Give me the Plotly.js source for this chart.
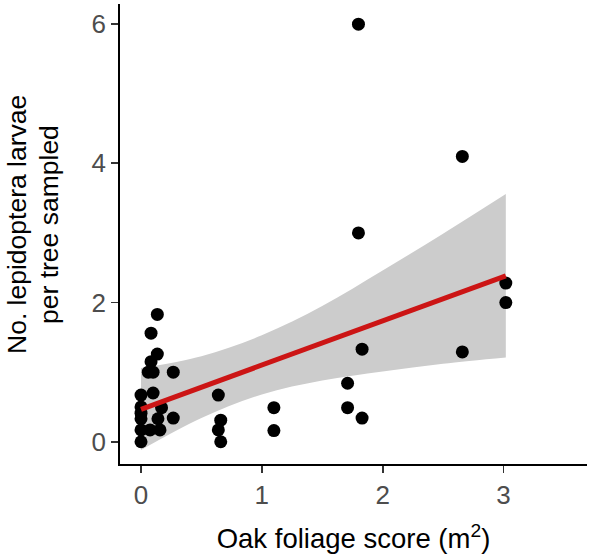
<!DOCTYPE html>
<html>
<head>
<meta charset="utf-8">
<script src="https://cdn.plot.ly/plotly-3.0.1.min.js"></script>
<style>
  html, body { margin: 0; padding: 0; background: #ffffff; }
  #chart { width: 590px; height: 557px; }
</style>
</head>
<body>
<div id="chart"></div>
<script>
// Oak foliage score (m^2) for each sampled tree group
const foliage = [0, 0, 0, 0, 0, 0,
  0.06, 0.10, 0.083, 0.083, 0.135, 0.135, 0.10, 0.075, 0.157, 0.14, 0.17, 0.267, 0.267,
  0.64, 0.66, 0.64, 0.66,
  1.10, 1.10,
  1.71, 1.71,
  1.80, 1.80,
  1.83, 1.83,
  2.66, 2.66,
  3.02, 3.02];

// Lepidoptera larvae counted per tree sampled
const larvae = [0, 0.17, 0.33, 0.41, 0.5, 0.67,
  1.0, 1.0, 1.56, 1.15, 1.83, 1.26, 0.70, 0.17, 0.17, 0.33, 0.49, 1.0, 0.34,
  0.67, 0.31, 0.17, 0,
  0.49, 0.16,
  0.84, 0.49,
  6.0, 3.0,
  1.33, 0.34,
  4.1, 1.29,
  2.28, 2.0];

// Linear fit and its 95% confidence band
const fitX = [0, 3.02];
const fitY = [0.466, 2.384];
const bandX = [0, 0.5, 1.0, 1.5, 2.0, 2.5, 3.02];
const bandLower = [-0.12, 0.34, 0.68, 0.88, 1.01, 1.12, 1.21];
const bandUpper = [1.06, 1.23, 1.53, 1.95, 2.46, 2.99, 3.56];

// Axis ticks and titles
const xTicks = [0, 1, 2, 3];
const yTicks = [0, 2, 4, 6];
const xTitle = 'Oak foliage score (m<sup>2</sup>)';
const yTitleLines = ['No. lepidoptera larvae', 'per tree sampled'];

const fontFamily = '"Liberation Sans", Arial, sans-serif';

const traces = [
  {
    x: bandX, y: bandLower, type: 'scatter', mode: 'lines',
    line: { width: 0, shape: 'spline', color: 'rgba(0,0,0,0)' },
    hoverinfo: 'skip', showlegend: false
  },
  {
    x: bandX, y: bandUpper, type: 'scatter', mode: 'lines',
    line: { width: 0, shape: 'spline', color: 'rgba(0,0,0,0)' },
    fill: 'tonexty', fillcolor: 'rgb(204,204,204)',
    hoverinfo: 'skip', showlegend: false
  },
  {
    x: foliage, y: larvae, type: 'scatter', mode: 'markers',
    marker: { size: 13, color: '#000000', line: { width: 0 } },
    showlegend: false
  },
  {
    x: fitX, y: fitY, type: 'scatter', mode: 'lines',
    line: { color: '#cc1515', width: 5 },
    showlegend: false
  }
];

const axisCommon = {
  showgrid: false,
  zeroline: false,
  showline: true,
  linecolor: '#000000',
  linewidth: 1.8,
  ticks: 'outside',
  ticklen: 7,
  tickwidth: 1.8,
  tickcolor: '#333333',
  tickfont: { family: fontFamily, size: 26, color: '#4d4d4d' },
  automargin: false
};

// Plot area spans 120..587 px horizontally and 4..464 px vertically
const plotLeft = 120, plotWidth = 467, plotBottom = 464, plotHeight = 460;
const yTitleCentres = [17, 49];   // px from the left edge, one per line
const yTitleMid = 225;             // px from the top

const annotations = yTitleLines.map((line, i) => ({
  text: line,
  xref: 'paper', yref: 'paper',
  x: (yTitleCentres[i] - plotLeft) / plotWidth,
  y: (plotBottom - yTitleMid) / plotHeight,
  xanchor: 'center', yanchor: 'middle',
  textangle: -90,
  showarrow: false,
  font: { family: fontFamily, size: 26.5, color: '#000000' }
}));

const layout = {
  width: 590,
  height: 557,
  margin: { l: 120, r: 3, t: 4, b: 93 },
  paper_bgcolor: '#ffffff',
  plot_bgcolor: '#ffffff',
  showlegend: false,
  annotations: annotations,
  xaxis: Object.assign({}, axisCommon, {
    range: [-0.174, 3.692],
    tickvals: xTicks,
    ticktext: xTicks.map(String),
    title: {
      text: xTitle,
      font: { family: fontFamily, size: 27.5, color: '#000000' },
      standoff: 20
    }
  }),
  yaxis: Object.assign({}, axisCommon, {
    range: [-0.32, 6.29],
    tickvals: yTicks,
    ticktext: yTicks.map(String)
  })
};

Plotly.newPlot('chart', traces, layout, { displayModeBar: false, staticPlot: true });
</script>
</body>
</html>
